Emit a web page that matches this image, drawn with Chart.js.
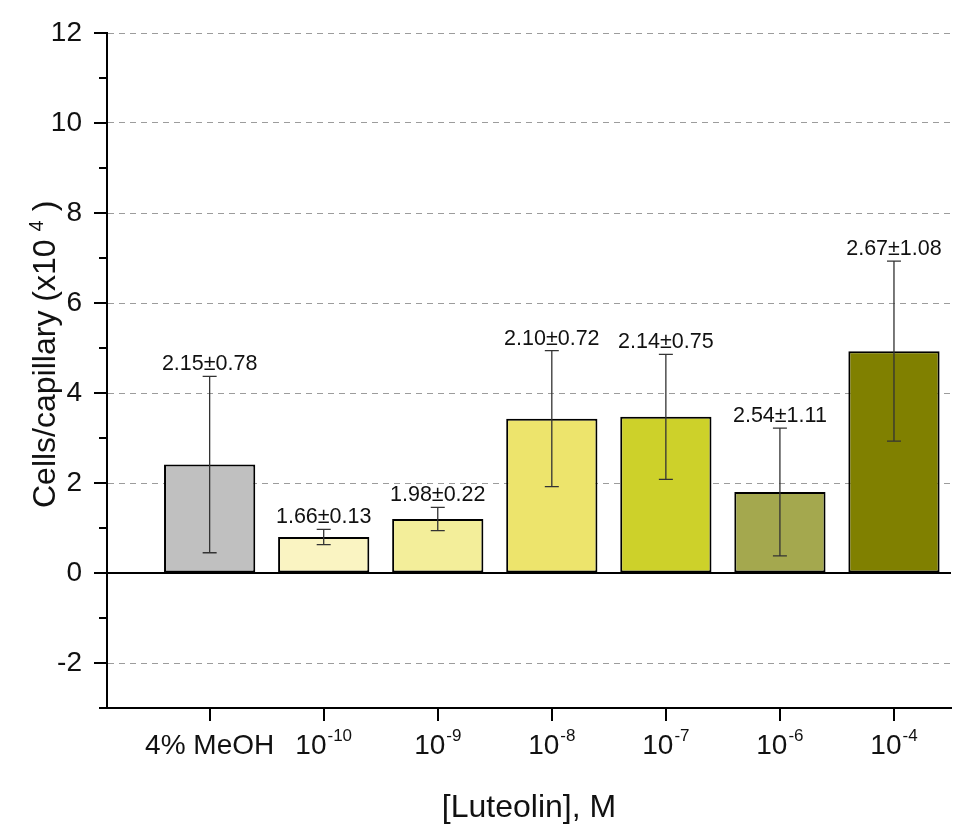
<!DOCTYPE html>
<html>
<head>
<meta charset="utf-8">
<script src="https://cdn.jsdelivr.net/npm/chart.js@4/dist/chart.umd.min.js"></script>
<style>
  body { margin: 0; background: #fff; }
  canvas { display: block; }
</style>
</head>
<body>
<canvas id="luteolin-chart" width="974" height="840"></canvas>
<script>
// data
var categories = ['4% MeOH', '10-10', '10-9', '10-8', '10-7', '10-6', '10-4'];
var tickBase = ['4% MeOH', '10', '10', '10', '10', '10', '10'];
var tickExp = ['', '-10', '-9', '-8', '-7', '-6', '-4'];
var means = [2.41, 0.80, 1.20, 3.43, 3.47, 1.80, 4.93];
var errors = [1.96, 0.17, 0.26, 1.51, 1.39, 1.42, 2.00];
var annotations = ['2.15\u00b10.78', '1.66\u00b10.13', '1.98\u00b10.22', '2.10\u00b10.72', '2.14\u00b10.75', '2.54\u00b11.11', '2.67\u00b11.08'];
var barColors = ['#c0c0c0', '#faf4c2', '#f3ee9a', '#ede46c', '#cdd12a', '#a4a84e', '#808000'];

var FONT = "'Liberation Sans', Arial, Helvetica, sans-serif";

//  error bars, labels, axis extras
var extras = {
  id: 'extras',
  afterDatasetsDraw: function(chart) {
    var ctx = chart.ctx;
    var xs = chart.scales.x;
    var ys = chart.scales.y;
    var area = chart.chartArea;

    // solid zero line
    var y0 = ys.getPixelForValue(0);
    ctx.save();
    ctx.strokeStyle = '#000';
    ctx.lineWidth = 2;
    ctx.beginPath();
    ctx.moveTo(area.left, y0);
    ctx.lineTo(area.right, y0);
    ctx.stroke();

    // error bars + value labels
    ctx.strokeStyle = '#333';
    ctx.lineWidth = 1.3;
    ctx.fillStyle = '#111';
    ctx.font = '21.5px ' + FONT;
    ctx.textAlign = 'center';
    ctx.textBaseline = 'alphabetic';
    means.forEach(function(m, i) {
      var x = xs.getPixelForValue(i);
      var top = ys.getPixelForValue(m + errors[i]);
      var bot = ys.getPixelForValue(m - errors[i]);
      ctx.beginPath();
      ctx.moveTo(x, top); ctx.lineTo(x, bot);
      ctx.moveTo(x - 7, top); ctx.lineTo(x + 7, top);
      ctx.moveTo(x - 7, bot); ctx.lineTo(x + 7, bot);
      ctx.stroke();
      ctx.fillText(annotations[i], x, top - 6);
    });
    ctx.restore();
  },
  afterDraw: function(chart) {
    var ctx = chart.ctx;
    var xs = chart.scales.x;
    var ys = chart.scales.y;
    var area = chart.chartArea;
    ctx.save();
    ctx.strokeStyle = '#000';
    ctx.lineWidth = 2;

    // y ticks, major on even values
    ctx.beginPath();
    for (var v = -3; v <= 12; v++) {
      var py = Math.round(ys.getPixelForValue(v));
      var len = (v % 2 === 0) ? 13 : 8;
      ctx.moveTo(area.left - len, py);
      ctx.lineTo(area.left, py);
    }
    // x ticks
    categories.forEach(function(c, i) {
      var px = Math.round(xs.getPixelForValue(i));
      ctx.moveTo(px, area.bottom);
      ctx.lineTo(px, area.bottom + 13);
    });
    ctx.stroke();

    // x tick labels with superscript exponents
    ctx.fillStyle = '#111';
    ctx.textBaseline = 'alphabetic';
    ctx.textAlign = 'left';
    categories.forEach(function(c, i) {
      var px = xs.getPixelForValue(i);
      var baseY = area.bottom + 46;
      ctx.font = '28px ' + FONT;
      var bw = ctx.measureText(tickBase[i]).width;
      ctx.font = '17px ' + FONT;
      var ew = tickExp[i] ? ctx.measureText(tickExp[i]).width + 1 : 0;
      var start = px - (bw + ew) / 2;
      ctx.font = '28px ' + FONT;
      ctx.fillText(tickBase[i], start, baseY);
      if (tickExp[i]) {
        ctx.font = '17px ' + FONT;
        ctx.fillText(tickExp[i], start + bw + 1, baseY - 13);
      }
    });

    // x title
    ctx.font = '32px ' + FONT;
    ctx.textAlign = 'center';
    ctx.fillText('[Luteolin], M', (area.left + area.right) / 2, 817);

    // y title, rotated, with superscript 4
    ctx.translate(55, 508);
    ctx.rotate(-Math.PI / 2);
    ctx.textAlign = 'left';
    ctx.font = '32px ' + FONT;
    var main = 'Cells/capillary (x10';
    var mw = ctx.measureText(main).width;
    ctx.fillText(main, 0, 0);
    ctx.font = '20px ' + FONT;
    ctx.fillText('4', mw + 8, -12);
    var sw = ctx.measureText('4').width;
    ctx.font = '32px ' + FONT;
    ctx.fillText(')', mw + 8 + sw + 9, 0);
    ctx.restore();
  }
};

//  draw chart
(function() {
  var el = document.getElementById('luteolin-chart');
  var points = means.map(function(m, i) { return { x: i, y: m }; });

  new Chart(el, {
    type: 'bar',
    data: {
      datasets: [{
        data: points,
        backgroundColor: barColors,
        borderColor: '#000',
        borderWidth: 2,
        borderSkipped: false,
        categoryPercentage: 0.8,
        barPercentage: 1.0
      }]
    },
    options: {
      responsive: false,
      animation: false,
      layout: { padding: { left: 0, right: 23, top: 33, bottom: 0 } },
      plugins: {
        legend: { display: false },
        tooltip: { enabled: false }
      },
      scales: {
        x: {
          type: 'linear',
          min: -0.9,
          max: 6.5,
          offset: false,
          grid: { display: false, drawTicks: false, offset: false },
          border: { display: true, color: '#000', width: 2 },
          ticks: { display: false },
          afterBuildTicks: function(s) {
            s.ticks = categories.map(function(c, i) { return { value: i }; });
          },
          afterFit: function(s) { s.height = 132; }
        },
        y: {
          min: -3,
          max: 12,
          grid: {
            drawTicks: false,
            lineWidth: 1,
            color: function(c) {
              var v = c.tick ? c.tick.value : 1;
              return (v % 2 === 0 && v !== 0) ? '#9c9c9c' : 'rgba(0,0,0,0)';
            }
          },
          border: { display: true, color: '#000', width: 2, dash: [6, 5] },
          ticks: {
            stepSize: 1,
            padding: 25,
            color: '#111',
            font: { family: FONT, size: 28 },
            callback: function(v) { return v % 2 === 0 ? String(v) : ''; }
          },
          afterFit: function(s) {
            s.width = 107;
            s.paddingTop = 0;
            s.paddingBottom = 0;
          }
        }
      }
    },
    plugins: [extras]
  });
})();
</script>
</body>
</html>
